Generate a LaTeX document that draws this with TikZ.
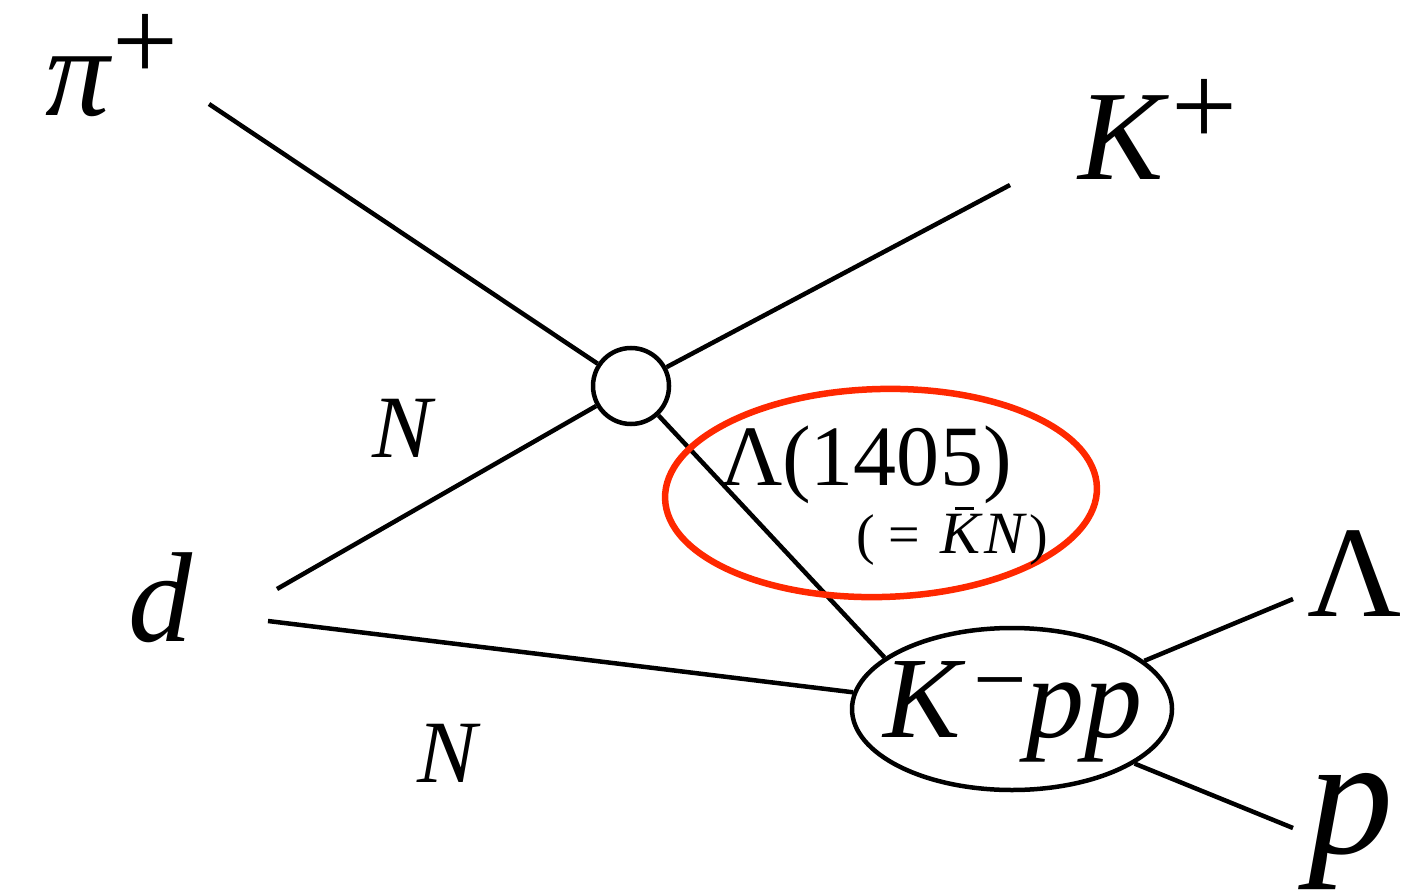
\documentclass[tikz,border=0pt]{standalone}
\usepackage{fontspec}
\setmainfont{Liberation Serif}
\usetikzlibrary{shapes.geometric}
\newcommand\fsz[1]{\fontsize{#1}{#1}\selectfont}
\definecolor{redink}{RGB}{255,40,0}
\begin{document}
\begin{tikzpicture}[x=1pt,y=-1pt,
  prop/.style={line width=4.5pt},
  lbl/.style={anchor=base west,inner sep=0pt,outer sep=0pt}]
\useasboundingbox (0,0) rectangle (1404,893);
% vertex and bound state
\node[circle,draw,line width=4.5pt,minimum size=76pt,inner sep=0pt] (vtx) at (631,386) {};
\node[ellipse,draw,line width=4.5pt,minimum width=320pt,minimum height=162pt,inner sep=0pt] (kpp) at (1012,709) {};
% free ends
\coordinate (piend) at (209,104);
\coordinate (kend) at (1010,185);
\coordinate (dup) at (277,589);
\coordinate (ddown) at (268,621);
\coordinate (lamend) at (1293,599);
\coordinate (pend) at (1293,828);
% connectors
\draw[prop] (piend) -- (vtx);
\draw[prop] (vtx) -- (kend);
\draw[prop] (dup) -- (vtx);
\draw[prop] (ddown) -- (kpp.174);
\draw[prop] (vtx) -- (kpp.158);
\draw[prop] (kpp.20) -- (lamend);
\draw[prop] (kpp.336) -- (pend);
% red hand-drawn ellipse
\node[ellipse,draw=redink,line width=6.5pt,minimum width=432pt,minimum height=208pt,inner sep=0pt,rotate=1.5] (lam) at (881,493) {};
% labels
\node[lbl] (pilbl) at (45,116) {\fsz{128}\textit{π}\raisebox{35pt}{\fsz{117}+}};
\node[lbl] (klbl) at (1078,180) {\fsz{128}\textit{K}\hspace{3pt}\raisebox{34pt}{\fsz{117}+}};
\node[lbl] (dlbl) at (128,641) {\fsz{128}\textit{d}};
\node[lbl] (n1) at (372,457) {\fsz{89}\textit{N}};
\node[lbl] (n2) at (417,782) {\fsz{89}\textit{N}};
\node[lbl] (lamlbl) at (720,485) {\fsz{86}Λ(1405)};
\node[lbl] (kbarn) at (856,553) {\fsz{56}(\hspace{14pt}=\hspace{20pt}\makebox[0pt][l]{\hspace{15pt}\rule[43pt]{19pt}{3.5pt}}{\fsz{60}\textit{K}\hspace{2pt}\textit{N}}\hspace{2pt})};
\node[lbl] (kpplbl) at (883,737) {\fsz{116}\textit{K}\hspace{8pt}\raisebox{26pt}{\fsz{95}−}\textit{pp}};
\node[lbl] (lamr) at (1307,616) {\fsz{130}Λ};
\node[lbl] (plbl) at (1308,853) {\fsz{170}\textit{p}};
\end{tikzpicture}
\end{document}
